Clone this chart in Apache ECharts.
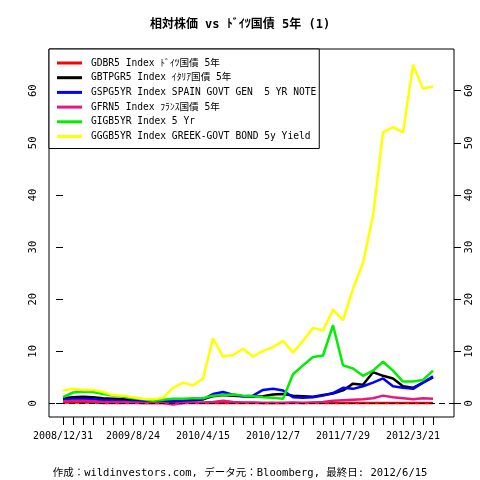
<!DOCTYPE html>
<html>
<head>
<meta charset="utf-8">
<script src="https://cdn.jsdelivr.net/npm/echarts@6/dist/echarts.min.js"></script>
<style>
  html, body { margin: 0; padding: 0; background: #fff; }
  #chart { width: 480px; height: 480px; }
</style>
</head>
<body>
<div id="chart"></div>
<script>
// DATA (x = tick index, one tick per ~34 days from 2008/12/31)
var tickLabels = ["2008/12/31", "2009/8/24", "2010/4/15", "2010/12/7", "2011/7/29", "2012/3/21"];
var labelTicks = [0, 7, 14, 21, 28, 35];
var seriesNames = [
  "GDBR5 Index ﾄﾞｲﾂ国債 5年",
  "GBTPGR5 Index ｲﾀﾘｱ国債 5年",
  "GSPG5YR Index SPAIN GOVT GEN  5 YR NOTE",
  "GFRN5 Index ﾌﾗﾝｽ国債 5年",
  "GIGB5YR Index 5 Yr",
  "GGGB5YR Index GREEK-GOVT BOND 5y Yield"
];
var seriesColors = ["#ff0000", "#000000", "#0000ff", "#e8177f", "#00ee00", "#ffff00"];

var germany = [0.2,0.2,0.2,0.2,0.1,0.1,0.1,0.1,0.1,0.1,0.1,0.1,0.1,0.1,0.1,0.1,0.1,0.1,0.1,0.1,0.1,0.1,0.1,0.1,0.1,0.1,0.1,0.1,0.1,0.1,0.1,0.1,0.1,0.1,0.1,0.1,0.1,0.1];
var italy   = [1.0,1.2,1.3,1.2,1.0,0.9,0.8,0.7,0.6,0.6,0.5,0.6,0.6,0.6,0.8,1.4,1.6,1.5,1.4,1.3,1.4,1.7,1.8,1.5,1.4,1.3,1.6,1.9,2.5,3.8,3.6,6.0,5.3,4.8,3.3,3.0,4.0,5.0];
var spain   = [0.7,0.9,0.9,0.8,0.6,0.6,0.5,0.4,0.4,0.3,0.3,0.4,0.4,0.5,0.8,1.8,2.2,1.7,1.4,1.5,2.6,2.8,2.5,1.2,1.1,1.2,1.5,2.0,3.0,2.8,3.3,4.0,4.8,3.3,3.0,2.8,4.0,5.2];
var france  = [0.4,0.5,0.5,0.4,0.3,0.3,0.3,0.2,0.1,0.1,0.1,-0.2,0.1,0.2,0.2,0.3,0.5,0.3,0.2,0.2,0.1,0.1,0.1,0.2,0.1,0.2,0.3,0.5,0.6,0.7,0.8,1.0,1.5,1.2,1.0,0.8,1.0,0.9];
var ireland = [1.2,2.1,2.3,2.2,1.8,1.5,1.3,1.0,0.8,0.5,0.7,0.9,0.9,1.0,1.0,1.5,1.6,1.7,1.5,1.4,1.2,1.1,0.9,5.6,7.3,8.9,9.2,15.0,7.3,6.7,5.3,6.3,8.0,6.3,4.2,4.2,4.5,6.3];
var greece  = [2.5,2.8,2.6,2.6,2.2,1.6,1.5,1.2,0.9,0.8,1.1,3.0,4.0,3.5,4.8,12.5,9.0,9.3,10.5,9.0,10.1,10.8,12.0,9.8,12.0,14.5,14.0,18.0,16.0,22.0,27.0,36.0,52.0,53.0,52.0,65.0,60.4,60.8];
var allSeries = [germany, italy, spain, france, ireland, greece];

var yTicks = [0, 10, 20, 30, 40, 50, 60];
var xTicks = [];
for (var i = 0; i < germany.length; i++) xTicks.push(i);

var font = "'DejaVu Sans Mono', 'Noto Sans CJK JP', monospace";

var series = allSeries.map(function (vals, k) {
  return {
    name: seriesNames[k],
    type: "line",
    data: vals.map(function (v, i) { return [i, v]; }),
    showSymbol: false,
    symbol: "none",
    lineStyle: { color: seriesColors[k], width: 2.5 },
    itemStyle: { color: seriesColors[k] },
    z: 2 + k,
    animation: false
  };
});
series[0].markLine = {
  silent: true,
  symbol: "none",
  label: { show: false },
  lineStyle: { color: "#000", type: [6, 4], width: 1.2 },
  data: [{ yAxis: 0 }],
  z: 20
};

var chart = echarts.init(document.getElementById("chart"));
chart.setOption({
  animation: false,
  textStyle: { fontFamily: font },
  title: [
    { text: "相対株価 vs ﾄﾞｲﾂ国債 5年 (1)", left: "center", top: 14,
      textStyle: { fontSize: 12, fontWeight: "bold", fontFamily: font, color: "#000" } },
    { text: "作成：wildinvestors.com, データ元：Bloomberg, 最終日: 2012/6/15", left: "center", top: 463,
      textStyle: { fontSize: 10.5, fontWeight: "normal", fontFamily: font, color: "#000" } }
  ],
  legend: {
    orient: "vertical",
    left: 49, top: 49,
    padding: [8, 3, 6, 8],
    itemWidth: 25, itemHeight: 3,
    itemGap: 2.7,
    icon: "rect",
    borderColor: "#000", borderWidth: 1,
    backgroundColor: "#fff",
    textStyle: { fontSize: 9.6, lineHeight: 12, fontFamily: font, color: "#000", padding: [0, 0, 0, 4] },
    data: seriesNames,
    z: 30
  },
  grid: { left: 49, right: 26, top: 49, bottom: 63, show: true, borderColor: "#000", borderWidth: 1 },
  xAxis: {
    type: "value", min: -1.4, max: 39.1,
    axisLine: { show: true, onZero: false, lineStyle: { color: "rgba(0,0,0,0)" } },
    splitLine: { show: false },
    axisTick: { show: true, length: 8, customValues: xTicks, lineStyle: { color: "#000" } },
    axisLabel: {
      customValues: labelTicks, margin: 14, fontSize: 10, color: "#000", fontFamily: font,
      formatter: function (v) { return tickLabels[labelTicks.indexOf(Math.round(v))] || ""; }
    }
  },
  yAxis: [
    {
      type: "value", min: -2.6, max: 68, position: "left",
      axisLine: { show: false }, splitLine: { show: false },
      axisTick: { show: true, length: 7, customValues: yTicks, lineStyle: { color: "#000" } },
      axisLabel: { customValues: yTicks, rotate: 90, margin: 10, fontSize: 10.5, color: "#000", fontFamily: font }
    },
    {
      type: "value", min: -2.6, max: 68, position: "right",
      axisLine: { show: false }, splitLine: { show: false },
      axisTick: { show: true, length: 7, customValues: yTicks, lineStyle: { color: "#000" } },
      axisLabel: { customValues: yTicks, rotate: 90, margin: 10, fontSize: 10.5, color: "#000", fontFamily: font }
    }
  ],
  series: series
});
</script>
</body>
</html>
